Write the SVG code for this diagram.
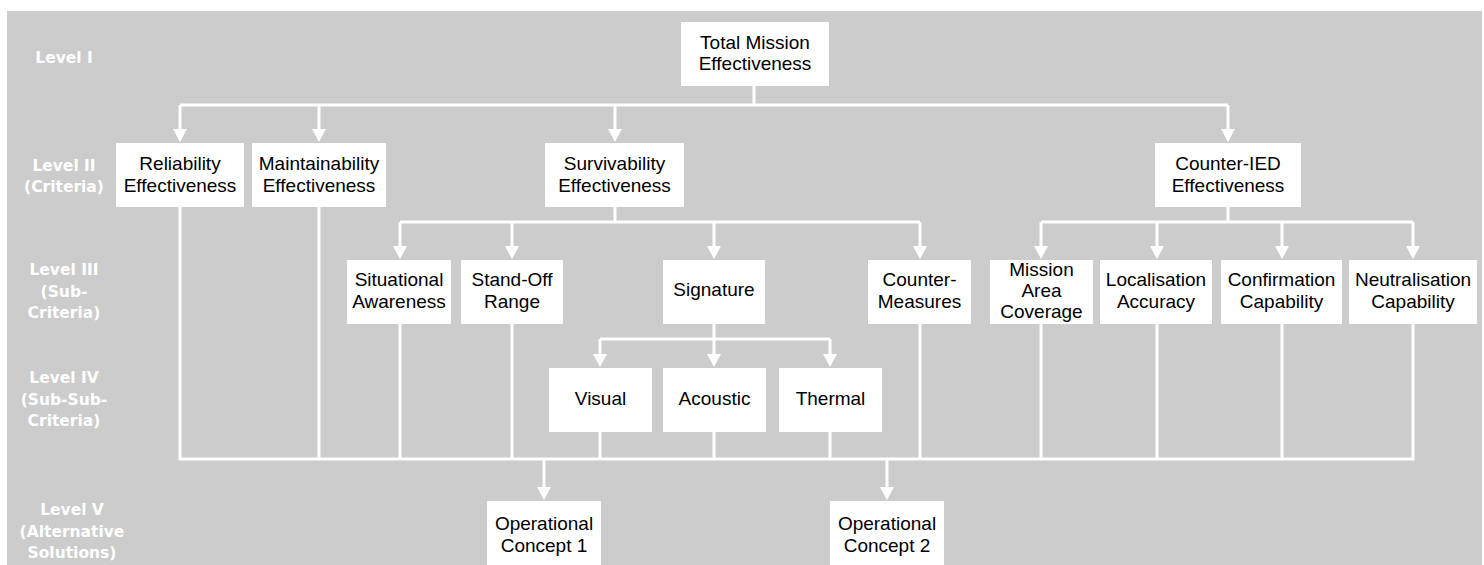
<svg xmlns="http://www.w3.org/2000/svg" width="1484" height="565" viewBox="0 0 1484 565">
<style>
.box{fill:#ffffff;stroke:none}
.t{font-family:"Liberation Sans",Arial,sans-serif;font-size:19px;fill:#000000;text-anchor:middle}
.lvl{font-family:"DejaVu Sans",Verdana,sans-serif;font-weight:bold;font-size:15.5px;fill:#ffffff;text-anchor:middle}
.ln{fill:none;stroke:#ffffff;stroke-width:3}
.ar{fill:none;stroke:#ffffff;stroke-width:3;marker-end:url(#ah)}
</style>
<defs>
<marker id="ah" markerUnits="userSpaceOnUse" viewBox="0 0 13 14" markerWidth="13" markerHeight="14" refX="7" refY="7" orient="auto">
<path d="M0,0 L13,7 L0,14 Z" fill="#ffffff"/>
</marker>
</defs>
<rect x="0" y="0" width="1484" height="565" fill="#ffffff"/>
<rect x="7" y="11" width="1475" height="554" fill="#cccccc"/>

<g id="levels">
<text class="lvl" x="64" y="63">Level I</text>
<text class="lvl" x="64" y="170.5">Level II</text>
<text class="lvl" x="64" y="192">(Criteria)</text>
<text class="lvl" x="64" y="275">Level III</text>
<text class="lvl" x="64" y="296.5">(Sub-</text>
<text class="lvl" x="64" y="318">Criteria)</text>
<text class="lvl" x="64" y="383">Level IV</text>
<text class="lvl" x="64" y="404.5">(Sub-Sub-</text>
<text class="lvl" x="64" y="426">Criteria)</text>
<text class="lvl" x="72" y="515">Level V</text>
<text class="lvl" x="72" y="536.5">(Alternative</text>
<text class="lvl" x="72" y="558">Solutions)</text>
</g>

<g id="connectors">
<path class="ln" d="M754,86 V105 M180,105 H1228"/>
<path class="ar" d="M180,105 V136"/>
<path class="ar" d="M319,105 V136"/>
<path class="ar" d="M615,105 V136"/>
<path class="ar" d="M1228,105 V136"/>
<path class="ln" d="M615,207 V222 M400,222 H920"/>
<path class="ar" d="M400,222 V253"/>
<path class="ar" d="M512,222 V253"/>
<path class="ar" d="M714,222 V253"/>
<path class="ar" d="M920,222 V253"/>
<path class="ln" d="M1228,207 V222 M1041,222 H1413"/>
<path class="ar" d="M1041,222 V253"/>
<path class="ar" d="M1157,222 V253"/>
<path class="ar" d="M1282,222 V253"/>
<path class="ar" d="M1413,222 V253"/>
<path class="ln" d="M714,324 V339 M600,339 H830"/>
<path class="ar" d="M600,339 V361"/>
<path class="ar" d="M714,339 V361"/>
<path class="ar" d="M830,339 V361"/>
<path class="ln" d="M180,207 V459 M319,207 V459 M400,324 V459 M512,324 V459 M600,432 V459 M714,432 V459 M830,432 V459 M920,324 V459 M1041,324 V459 M1157,324 V459 M1282,324 V459 M1413,324 V459 M178.5,459 H1414.5"/>
<path class="ar" d="M544,459 V494"/>
<path class="ar" d="M887,459 V494"/>
</g>

<g id="total"><rect class="box" x="681" y="22" width="148" height="64"/><text class="t" x="755" y="48.5">Total Mission</text><text class="t" x="755" y="70">Effectiveness</text></g>

<g id="reliability"><rect class="box" x="116" y="143" width="128" height="64"/><text class="t" x="180" y="170">Reliability</text><text class="t" x="180" y="191.5">Effectiveness</text></g>
<g id="maintainability"><rect class="box" x="252" y="143" width="134" height="64"/><text class="t" x="319" y="170">Maintainability</text><text class="t" x="319" y="191.5">Effectiveness</text></g>
<g id="survivability"><rect class="box" x="545" y="143" width="139" height="64"/><text class="t" x="614.5" y="170">Survivability</text><text class="t" x="614.5" y="191.5">Effectiveness</text></g>
<g id="counter-ied"><rect class="box" x="1155" y="143" width="146" height="64"/><text class="t" x="1228" y="170">Counter-IED</text><text class="t" x="1228" y="191.5">Effectiveness</text></g>

<g id="situational"><rect class="box" x="347" y="260" width="104" height="64"/><text class="t" x="399" y="286">Situational</text><text class="t" x="399" y="307.5">Awareness</text></g>
<g id="standoff"><rect class="box" x="461" y="260" width="102" height="64"/><text class="t" x="512" y="286">Stand-Off</text><text class="t" x="512" y="307.5">Range</text></g>
<g id="signature"><rect class="box" x="663" y="260" width="102" height="64"/><text class="t" x="714" y="296">Signature</text></g>
<g id="countermeasures"><rect class="box" x="868" y="260" width="103" height="64"/><text class="t" x="919.5" y="286">Counter-</text><text class="t" x="919.5" y="307.5">Measures</text></g>
<g id="mission-area"><rect class="box" x="990" y="260" width="103" height="64"/><text class="t" x="1041.5" y="275.5">Mission</text><text class="t" x="1041.5" y="296.5">Area</text><text class="t" x="1041.5" y="317.5">Coverage</text></g>
<g id="localisation"><rect class="box" x="1100" y="260" width="112" height="64"/><text class="t" x="1156" y="286">Localisation</text><text class="t" x="1156" y="307.5">Accuracy</text></g>
<g id="confirmation"><rect class="box" x="1221" y="260" width="121" height="64"/><text class="t" x="1281.5" y="286">Confirmation</text><text class="t" x="1281.5" y="307.5">Capability</text></g>
<g id="neutralisation"><rect class="box" x="1349" y="260" width="128" height="64"/><text class="t" x="1413" y="286">Neutralisation</text><text class="t" x="1413" y="307.5">Capability</text></g>

<g id="visual"><rect class="box" x="549" y="368" width="103" height="64"/><text class="t" x="600.5" y="405">Visual</text></g>
<g id="acoustic"><rect class="box" x="663" y="368" width="103" height="64"/><text class="t" x="714.5" y="405">Acoustic</text></g>
<g id="thermal"><rect class="box" x="779" y="368" width="103" height="64"/><text class="t" x="830.5" y="405">Thermal</text></g>

<g id="op1"><rect class="box" x="487" y="501" width="114" height="64"/><text class="t" x="544" y="529.5">Operational</text><text class="t" x="544" y="551.5">Concept 1</text></g>
<g id="op2"><rect class="box" x="830" y="501" width="114" height="64"/><text class="t" x="887" y="529.5">Operational</text><text class="t" x="887" y="551.5">Concept 2</text></g>
</svg>
